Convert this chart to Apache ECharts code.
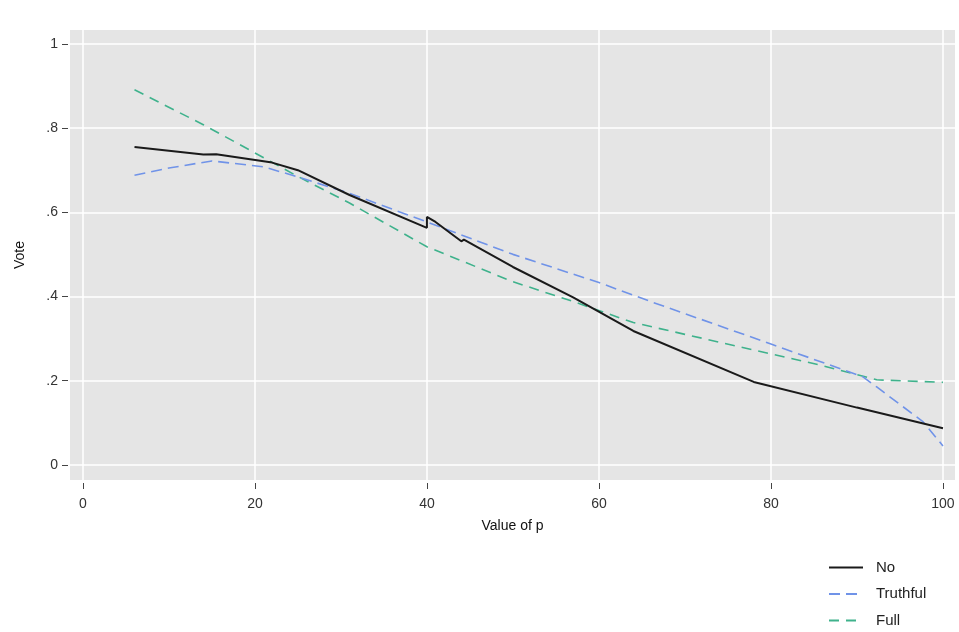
<!DOCTYPE html>
<html><head><meta charset="utf-8">
<script src="https://cdn.jsdelivr.net/npm/echarts@6/dist/echarts.min.js"></script>
<style>html,body{margin:0;padding:0;background:#fff}#c{width:959px;height:632px}</style>
</head><body><div id="c"></div>
<script>
const xTicks = [0, 20, 40, 60, 80, 100];
const yTicks = [0, 0.2, 0.4, 0.6, 0.8, 1];
const seriesNames = ['No', 'Truthful', 'Full'];
const noData = [[6,0.755],[14,0.737],[15.5,0.738],[22,0.718],[25,0.700],[31,0.641],[40,0.563],[40,0.589],[41,0.577],[44,0.531],[44.3,0.535],[50,0.47],[57,0.398],[64,0.318],[78,0.197],[90,0.136],[100,0.087]];
const truthfulData = [[6,0.688],[10,0.705],[15,0.722],[21,0.708],[25,0.684],[31,0.645],[40,0.577],[50,0.50],[60,0.433],[66,0.388],[80,0.287],[90.7,0.209],[92.3,0.185],[97.7,0.102],[100,0.045]];
const fullData = [[6,0.891],[14,0.808],[20,0.741],[25,0.685],[31,0.622],[40,0.518],[50,0.435],[57,0.388],[64,0.338],[70,0.31],[85.7,0.237],[92.3,0.202],[100,0.196]];

const chart = echarts.init(document.getElementById('c'));
const fmtY = v => { if (v === 0) return '0'; if (v === 1) return '1'; return String(+v.toFixed(1)).replace(/^0/, ''); };
chart.setOption({
  animation: false,
  grid: { left: 70, right: 4, top: 30, bottom: 152, show: true, backgroundColor: '#e5e5e5', borderWidth: 0 },
  xAxis: {
    type: 'value', min: -1.5, max: 101.4, offset: 3,
    name: 'Value of p', nameLocation: 'middle', nameGap: 36,
    nameTextStyle: { fontFamily: 'Liberation Sans', fontSize: 14, color: '#111' },
    axisLine: { show: false, onZero: false },
    axisTick: { show: true, customValues: xTicks, length: 6, inside: false, lineStyle: { color: '#444', width: 1 } },
    axisLabel: { customValues: xTicks, fontFamily: 'Liberation Sans', fontSize: 14, color: '#333', margin: 14 },
    splitLine: { show: true, lineStyle: { color: '#ffffff', width: 1.5 } }
  },
  yAxis: {
    type: 'value', min: -0.036, max: 1.033, offset: 2,
    name: 'Vote', nameLocation: 'middle', nameGap: 41, nameRotate: 90,
    nameTextStyle: { fontFamily: 'Liberation Sans', fontSize: 14, color: '#111' },
    axisLine: { show: false, onZero: false },
    axisTick: { show: true, customValues: yTicks, length: 6, lineStyle: { color: '#444', width: 1 } },
    axisLabel: { customValues: yTicks, formatter: fmtY, fontFamily: 'Liberation Sans', fontSize: 14, color: '#333', margin: 10 },
    splitLine: { show: true, lineStyle: { color: '#ffffff', width: 1.5 } }
  },
  legend: {
    orient: 'vertical', left: 828, top: 560, width: 130, height: 80, padding: 0,
    itemWidth: 34, itemHeight: 16, itemGap: 11.5,
    itemStyle: { opacity: 0 },
    lineStyle: { width: 2 },
    textStyle: { fontFamily: 'Liberation Sans', fontSize: 15, color: '#222', padding: [0, 0, 0, 8] },
    data: seriesNames
  },
  series: [
    { name: seriesNames[0], type: 'line', data: noData, symbol: 'none', lineStyle: { color: '#1a1a1a', width: 2 }, itemStyle: { color: '#1a1a1a' }, z: 5 },
    { name: seriesNames[1], type: 'line', data: truthfulData, symbol: 'none', lineStyle: { color: '#7093e8', width: 1.6, type: [11, 6] }, itemStyle: { color: '#7093e8' }, z: 4 },
    { name: seriesNames[2], type: 'line', data: fullData, symbol: 'none', lineStyle: { color: '#3fb28c', width: 1.6, type: [10, 7] }, itemStyle: { color: '#3fb28c' }, z: 3 }
  ]
});
</script></body></html>
